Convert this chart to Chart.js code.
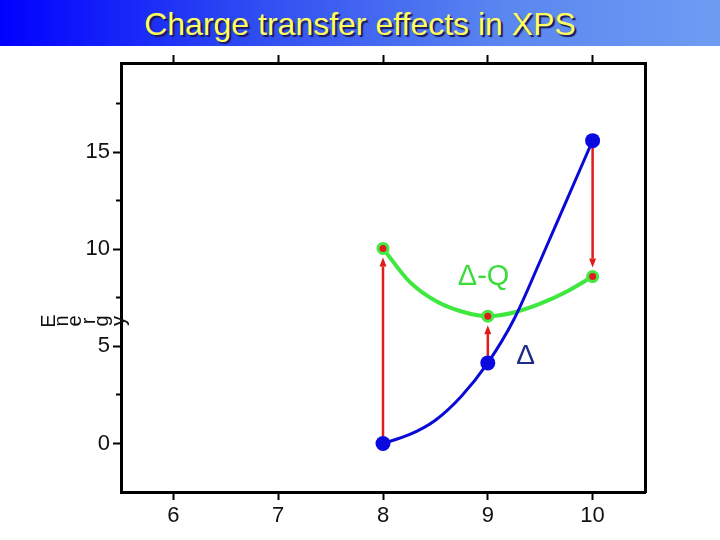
<!DOCTYPE html>
<html>
<head>
<meta charset="utf-8">
<script src="https://cdn.jsdelivr.net/npm/chart.js@4"></script>
<style>
    html, body { margin: 0; padding: 0; background: #fff; }
    #wrap { position: relative; width: 720px; height: 540px; }
    #banner {
        position: absolute; left: 0; top: 0; width: 720px; height: 46px;
        background: linear-gradient(90deg, #0000ff 0%, #2f4cf2 35%, #5a86f0 70%, #6f9cf3 100%);
        color: #ffff5e; font-family: "Liberation Sans", Arial, sans-serif; font-size: 32px;
        text-align: center; line-height: 46px; padding-top: 1px; box-sizing: border-box;
        text-shadow: 2px 2px 1px #1b1b55;
    }
    canvas { position: absolute; left: 0; top: 0; }
</style>
</head>
<body>
<div id="wrap">
    <canvas id="chart" width="720" height="540"></canvas>
    <div id="banner">Charge transfer effects in XPS</div>
</div>
<script>
// curves
const curveX = [8, 8.25, 8.5, 8.75, 9, 9.25, 9.5, 9.75, 10];
const deltaCurve = [0, 0.45, 1.2, 2.45, 4.15, 6.4, 9.4, 12.5, 15.6];
const deltaQCurve = [10.05, 8.35, 7.35, 6.8, 6.56, 6.75, 7.2, 7.82, 8.6];

// marked states
const stateX = [8, 9, 10];
const deltaPoints = [0, 4.15, 15.6];
const deltaQPoints = [10.05, 6.56, 8.6];

const xTicks = [6, 7, 8, 9, 10];
const yTicks = [0, 5, 10, 15];
const yMinorTicks = [2.5, 7.5, 12.5, 17.5];

const yLabel = "Energy";
const labelDelta = { text: "\u0394", x: 9.36, y: 4.5 };
const labelDeltaQ = { text: "\u0394-Q", x: 8.96, y: 8.6 };

const toPoints = (xs, ys) => xs.map((x, i) => ({ x: x, y: ys[i] }));
const setTicks = (list) => (scale) => {
    scale.ticks = list.map((v) => ({ value: v }));
};

Chart.defaults.font.family = "'Liberation Sans', Arial, sans-serif";
Chart.defaults.color = "#111";

const RED = "#e01b1b";

const extrasPlugin = {
    id: "extras",
    beforeDatasetsDraw(chart) {
        const { ctx } = chart;
        const xs = chart.scales.x;
        const ys = chart.scales.y;
        ctx.save();
        ctx.strokeStyle = RED;
        ctx.fillStyle = RED;
        ctx.lineWidth = 2.5;
        stateX.forEach((x, i) => {
            const px = xs.getPixelForValue(x);
            const y0 = ys.getPixelForValue(deltaPoints[i]);
            const y1 = ys.getPixelForValue(deltaQPoints[i]);
            const dir = y1 < y0 ? -1 : 1;
            const start = y0 + dir * 7;
            const tip = y1 - dir * 9;
            const head = 9;
            ctx.beginPath();
            ctx.moveTo(px, start);
            ctx.lineTo(px, tip - dir * head);
            ctx.stroke();
            ctx.beginPath();
            ctx.moveTo(px, tip);
            ctx.lineTo(px - 3.5, tip - dir * head);
            ctx.lineTo(px + 3.5, tip - dir * head);
            ctx.closePath();
            ctx.fill();
        });
        ctx.restore();
    },
    afterDraw(chart) {
        const { ctx } = chart;
        const xs = chart.scales.x;
        const ys = chart.scales.y;
        ctx.save();
        ctx.textAlign = "center";
        ctx.textBaseline = "middle";
        ctx.font = "29px 'Liberation Sans', Arial, sans-serif";
        ctx.fillStyle = "#3ddc3d";
        ctx.fillText(labelDeltaQ.text, xs.getPixelForValue(labelDeltaQ.x), ys.getPixelForValue(labelDeltaQ.y));
        ctx.font = "28px 'Liberation Sans', Arial, sans-serif";
        ctx.fillStyle = "#1c2d8c";
        ctx.fillText(labelDelta.text, xs.getPixelForValue(labelDelta.x), ys.getPixelForValue(labelDelta.y));

        // axis title: letters laid side by side, each turned on its side
        ctx.font = "20px 'Liberation Sans', Arial, sans-serif";
        ctx.fillStyle = "#111";
        ctx.textBaseline = "alphabetic";
        let cx = 41;
        const cy = 321;
        for (const ch of yLabel) {
            const m = ctx.measureText(ch);
            cx += m.actualBoundingBoxAscent;
            ctx.save();
            ctx.translate(cx, cy);
            ctx.rotate(-Math.PI / 2);
            ctx.fillText(ch, 0, 0);
            ctx.restore();
            cx += m.actualBoundingBoxDescent + 2;
        }
        ctx.restore();
    },
};

const tickFont = { size: 22 };
const axisGrid = { drawOnChartArea: false, tickLength: 8, tickWidth: 2, tickColor: "#000" };
const axisBorder = { width: 3, color: "#000" };

new Chart(document.getElementById("chart"), {
    type: "scatter",
    data: {
        datasets: [
            {
                data: toPoints(stateX, deltaPoints),
                backgroundColor: "#0a0ae0",
                borderColor: "#0a0ae0",
                pointRadius: 7.5,
                borderWidth: 0,
                order: 1,
            },
            {
                data: toPoints(stateX, deltaQPoints),
                backgroundColor: RED,
                borderColor: "#45e845",
                pointRadius: 5,
                borderWidth: 3,
                order: 2,
            },
            {
                data: toPoints(curveX, deltaCurve),
                showLine: true,
                borderColor: "#0a0ad6",
                borderWidth: 3,
                pointRadius: 0,
                cubicInterpolationMode: "monotone",
                order: 3,
            },
            {
                data: toPoints(curveX, deltaQCurve),
                showLine: true,
                borderColor: "#3ee83e",
                borderWidth: 4,
                pointRadius: 0,
                cubicInterpolationMode: "monotone",
                order: 4,
            },
        ],
    },
    options: {
        responsive: false,
        animation: false,
        devicePixelRatio: 1,
        layout: { padding: 0 },
        plugins: {
            legend: { display: false },
            tooltip: { enabled: false },
        },
        scales: {
            x: {
                type: "linear",
                position: "bottom",
                min: 5.5,
                max: 10.5,
                ticks: { font: tickFont, padding: 3, maxRotation: 0, autoSkip: false },
                grid: axisGrid,
                border: axisBorder,
                afterBuildTicks: setTicks(xTicks),
                afterFit: (s) => { s.height = 48; },
            },
            xTop: {
                type: "linear",
                position: "top",
                min: 5.5,
                max: 10.5,
                ticks: { display: false },
                grid: axisGrid,
                border: axisBorder,
                afterBuildTicks: setTicks(xTicks),
                afterFit: (s) => { s.height = 63; },
            },
            y: {
                type: "linear",
                position: "left",
                weight: 1,
                min: -2.5,
                max: 19.6,
                ticks: { font: tickFont, padding: 3, autoSkip: false },
                grid: axisGrid,
                border: axisBorder,
                afterBuildTicks: setTicks(yTicks),
                afterFit: (s) => { s.width = 121; },
            },
            yMinor: {
                type: "linear",
                position: "left",
                weight: 0,
                min: -2.5,
                max: 19.6,
                ticks: { display: false },
                grid: { drawOnChartArea: false, tickLength: 5, tickWidth: 2, tickColor: "#000" },
                border: { display: false },
                afterBuildTicks: setTicks(yMinorTicks),
                afterFit: (s) => { s.width = 0; },
            },
            yRight: {
                type: "linear",
                position: "right",
                min: -2.5,
                max: 19.6,
                ticks: { display: false },
                grid: { display: false },
                border: axisBorder,
                afterFit: (s) => { s.width = 75; },
            },
        },
    },
    plugins: [extrasPlugin],
});
</script>
</body>
</html>
